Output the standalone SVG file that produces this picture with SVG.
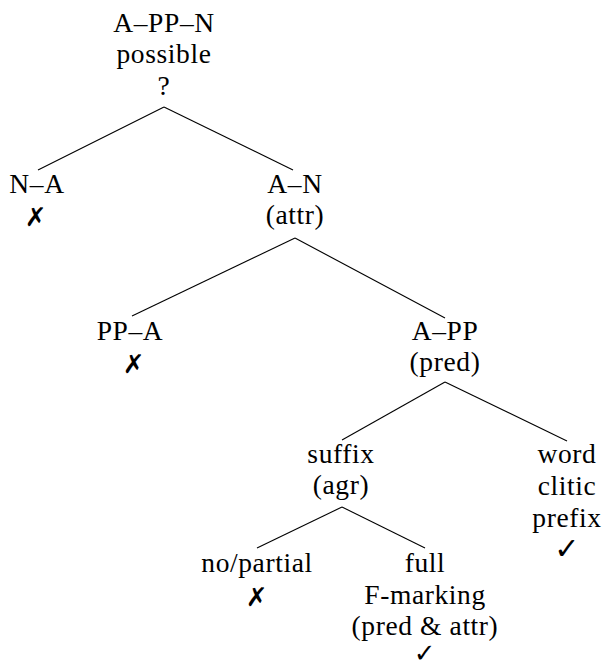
<svg xmlns="http://www.w3.org/2000/svg" width="602" height="666" viewBox="0 0 602 666">
<defs>
<style>
.e line{stroke:#000;stroke-width:1.1}
</style>
</defs>
<rect width="602" height="666" fill="#fff"/>
<g id="connectors" class="e">
<line x1="164" y1="107" x2="38" y2="170"/>
<line x1="164" y1="107" x2="293" y2="170"/>
<line x1="295" y1="238" x2="132" y2="316"/>
<line x1="295" y1="238" x2="445" y2="318"/>
<line x1="445" y1="382" x2="342" y2="440"/>
<line x1="445" y1="382" x2="567" y2="441"/>
<line x1="342" y1="507" x2="257" y2="548"/>
<line x1="342" y1="507" x2="425" y2="548"/>
</g>
<g font-family="Liberation Serif, serif" font-size="27.5" letter-spacing="0.6" text-anchor="middle" fill="#000">
<g id="root"><text x="164" y="32">A–PP–N</text><text x="164" y="63">possible</text><text x="164" y="95">?</text></g>
<g id="na"><text x="37" y="193">N–A</text><text font-family="DejaVu Sans, sans-serif" font-size="26" font-weight="bold" x="36" y="226">✗</text></g>
<g id="an"><text x="295" y="193">A–N</text><text x="295" y="224">(attr)</text></g>
<g id="ppa"><text x="130" y="340">PP–A</text><text font-family="DejaVu Sans, sans-serif" font-size="26" font-weight="bold" x="134" y="373">✗</text></g>
<g id="app"><text x="445" y="340">A–PP</text><text x="445" y="371">(pred)</text></g>
<g id="suffix"><text x="341" y="463">suffix</text><text x="341" y="494">(agr)</text></g>
<g id="word"><text x="567" y="463">word</text><text x="567" y="495">clitic</text><text x="567" y="527">prefix</text><text font-family="DejaVu Sans, sans-serif" font-size="30" font-weight="bold" x="567" y="559">✓</text></g>
<g id="nopartial"><text x="257" y="572">no/partial</text><text font-family="DejaVu Sans, sans-serif" font-size="26" font-weight="bold" x="257" y="606">✗</text></g>
<g id="full"><text x="425" y="572">full</text><text x="425" y="604">F-marking</text><text x="425" y="635">(pred &amp; attr)</text><text font-family="DejaVu Sans, sans-serif" font-size="26" font-weight="bold" x="425" y="662">✓</text></g>
</g>
</svg>
